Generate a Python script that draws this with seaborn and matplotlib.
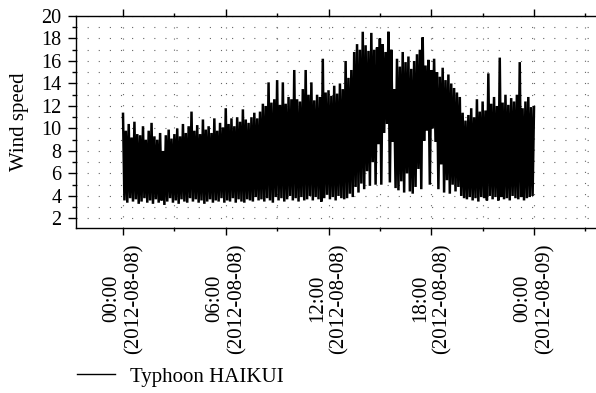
import numpy as np
import pandas as pd
import matplotlib
matplotlib.use("Agg")
import matplotlib.pyplot as plt
import matplotlib.dates as mdates
from matplotlib.ticker import MultipleLocator
import seaborn as sns

# ---- data (10-minute peaks and troughs) ----
start_time = "2012-08-08 00:00"
series_name = "Typhoon HAIKUI"
y_label = "Wind speed"

peak_speed = [
    11.3, 9.8, 10.4, 9.2, 10.6, 9.5,
    9.4, 10.2, 9.0, 9.8, 10.5, 9.3,
    9.0, 9.6, 8.0, 9.4, 9.9, 9.1,
    9.5, 10.0, 9.3, 10.4, 9.6, 10.2,
    11.5, 9.8, 10.3, 9.5, 10.8, 9.9,
    10.2, 9.6, 10.9, 9.8, 10.5, 10.1,
    11.8, 10.4, 10.9, 10.2, 11.0, 10.6,
    11.7, 10.8, 10.5, 11.0, 11.4, 10.9,
    11.5, 12.2, 12.0, 14.1, 12.3, 12.6,
    14.3, 12.1, 14.1, 12.2, 12.8, 12.6,
    15.2, 12.6, 12.4, 13.5, 15.2, 13.0,
    14.1, 12.5, 13.0, 12.8, 16.2, 13.2,
    13.4, 12.9, 13.8, 13.1, 14.0, 13.5,
    16.0, 14.5, 15.2, 16.8, 17.5, 17.0,
    18.6, 17.4, 16.9, 18.5, 17.0, 17.2,
    18.0, 17.5, 16.8, 18.6, 17.0, 13.5,
    16.2, 15.5, 16.8, 15.9, 16.4, 15.3,
    16.0, 16.6, 17.0, 18.1, 15.6, 16.1,
    15.2, 16.2, 15.0, 14.6, 15.4, 14.3,
    14.8, 14.0, 13.6, 13.2, 12.8, 11.4,
    10.7, 11.2, 11.8, 11.0, 12.6, 11.5,
    12.4, 11.6, 14.9, 12.2, 12.8, 12.0,
    16.3, 12.3, 13.0, 12.1, 12.7, 12.4,
    13.0, 15.9, 11.8, 12.4, 12.8, 11.9,
    11.9,
]

trough_speed = [
    3.6, 3.4, 3.8, 3.5, 3.7, 3.3,
    3.5, 3.8, 3.4, 3.6, 3.3, 3.7,
    3.4, 3.6, 3.2, 3.5, 3.8, 3.4,
    3.6, 3.3, 3.7, 3.5, 3.4, 3.8,
    3.5, 3.7, 3.4, 3.6, 3.3, 3.5,
    3.7, 3.4, 3.6, 3.5, 3.8, 3.4,
    3.6, 3.5, 3.8, 3.4, 3.7, 3.5,
    3.4, 3.7, 3.6, 3.5, 3.9, 3.6,
    3.7, 3.5, 3.8, 3.6, 3.4, 3.9,
    3.6, 3.8, 3.5, 3.7, 4.0, 3.6,
    3.8, 3.5, 3.9, 3.6, 3.7, 4.0,
    3.6, 3.9, 3.7, 3.5, 3.8, 4.1,
    3.7, 3.9, 3.6, 4.0, 3.8, 3.7,
    3.8, 4.2, 3.9, 4.8, 4.3, 5.1,
    4.6, 6.2, 4.9, 7.0, 5.0, 8.6,
    5.0, 9.6, 10.4, 5.2, 8.8, 4.7,
    4.5, 5.3, 4.3, 6.0, 4.4, 4.2,
    4.8, 6.4, 4.6, 8.9, 9.8, 5.0,
    10.0, 8.8, 4.6, 6.8, 4.3, 5.4,
    4.2, 5.0, 4.4, 4.8, 4.0, 3.8,
    3.7, 3.9, 3.6, 3.8, 3.5, 3.9,
    3.8, 3.6, 4.0, 3.7, 3.9, 3.6,
    3.9, 3.7, 3.8, 3.6, 4.0, 3.8,
    3.7, 3.9, 3.6, 3.8, 3.9, 4.0,
]

y_ticks = [2, 4, 6, 8, 10, 12, 14, 16, 18, 20]

# ---- assemble the time series: peak at each 10-min mark, trough 5 min later ----
t0 = pd.Timestamp(start_time)
times, speeds = [], []
for i, p in enumerate(peak_speed):
    times.append(t0 + pd.Timedelta(minutes=10 * i))
    speeds.append(p)
    if i < len(trough_speed):
        times.append(t0 + pd.Timedelta(minutes=10 * i + 5))
        speeds.append(trough_speed[i])
df = pd.DataFrame({"time": times, "speed": speeds})

# ---- figure ----
plt.rcParams["font.family"] = ["Liberation Serif", "DejaVu Serif"]
plt.rcParams["font.size"] = 15

W, H = 596, 393
fig = plt.figure(figsize=(W / 100, H / 100), dpi=100)
ax = fig.add_axes([76 / W, 1 - 228 / H, 1 - 76 / W, (228 - 16) / H])

sns.lineplot(data=df, x="time", y="speed", color="black", linewidth=1.8,
             label=series_name, ax=ax, sort=False)
ax.get_lines()[0].set_solid_joinstyle("miter")

ax.set_xlim(t0 - pd.Timedelta(hours=2.745), t0 + pd.Timedelta(hours=27.62))
ax.set_ylim(1.15, 20)

ax.xaxis.set_major_locator(mdates.HourLocator(byhour=[0, 6, 12, 18]))
ax.xaxis.set_minor_locator(mdates.HourLocator(byhour=[3, 9, 15, 21]))
ax.xaxis.set_major_formatter(mdates.DateFormatter("%H:%M\n(%Y-%m-%d)"))
ax.set_yticks(y_ticks)
ax.yaxis.set_minor_locator(MultipleLocator(1))

ax.set_xlabel("")
ax.set_ylabel(y_label, fontsize=15, labelpad=9)

for lab in ax.get_xticklabels():
    lab.set_rotation(90)
    lab.set_multialignment("center")
    lab.set_fontsize(15)
for lab in ax.get_yticklabels():
    lab.set_fontsize(14.5)

ax.tick_params(axis="x", which="major", direction="out", length=5, width=1,
               top=True, bottom=True, labeltop=False, pad=6)
ax.tick_params(axis="x", which="minor", direction="out", length=2.5, width=1,
               top=True, bottom=True)
ax.tick_params(axis="y", which="major", direction="out", length=5.5, width=1, pad=5)
ax.tick_params(axis="y", which="minor", direction="out", length=3, width=1)

for s in ["left", "bottom", "top"]:
    ax.spines[s].set_linewidth(1.0)
    ax.spines[s].set_color("black")
ax.spines["right"].set_visible(False)

ax.grid(True, which="both", axis="y", color="#666666", linewidth=0.8,
        linestyle=(0, (1, 9)))
ax.grid(True, which="both", axis="x", color="#666666", linewidth=0.8,
        linestyle=(0, (1, 9)))
ax.set_axisbelow(True)

leg = ax.legend(loc="center left", bbox_to_anchor=(77 / W, 1 - 377 / H),
                bbox_transform=fig.transFigure, frameon=False, fontsize=15,
                handlelength=1.8, handletextpad=0.75, borderpad=0,
                borderaxespad=0)
for line in leg.get_lines():
    line.set_linewidth(1.0)

fig.savefig("out.png", dpi=100)
